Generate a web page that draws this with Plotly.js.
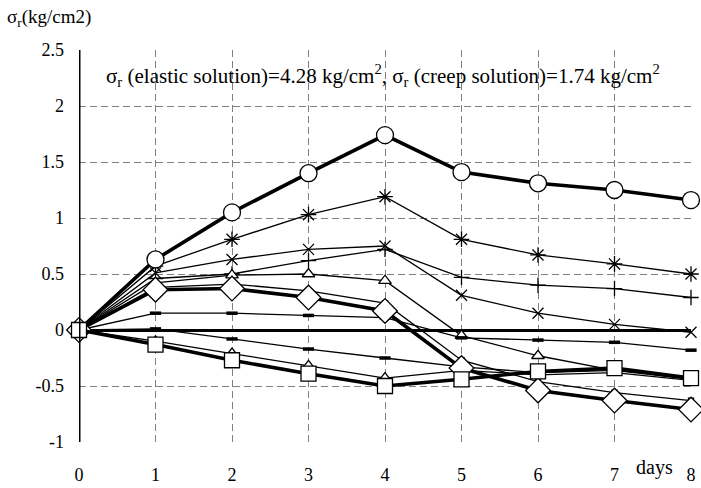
<!DOCTYPE html>
<html><head><meta charset="utf-8">
<script src="https://cdn.plot.ly/plotly-3.0.1.min.js"></script>
<style>html,body{margin:0;padding:0;background:#fff}#c{width:701px;height:488px}</style>
</head><body><div id="c"></div>
<script>
const days = [0,1,2,3,4,5,6,7,8];
const xTicks = [0,1,2,3,4,5,6,7,8];
const yTicks = [-1,-0.5,0,0.5,1,1.5,2,2.5];
const yTickText = ['-1','-0.5','0','0.5','1','1.5','2','2.5'];
// thin series
const sStar   = [0, 0.57, 0.81, 1.03, 1.19, 0.81, 0.67, 0.59, 0.50];
const sCross  = [0, 0.51, 0.63, 0.72, 0.75, 0.31, 0.15, 0.05, -0.02];
const sPlus   = [0, 0.46, 0.50, 0.62, 0.72, 0.47, 0.40, 0.37, 0.29];
const sTriUp  = [0, 0.42, 0.49, 0.50, 0.44, -0.05, -0.23, -0.36, -0.42];
const sDashA  = [0, 0.15, 0.15, 0.13, 0.11, -0.07, -0.09, -0.11, -0.18];
const sDot    = [0, 0.38, 0.41, 0.35, 0.24, -0.27, -0.46, -0.56, -0.63];
const sDashB  = [0, 0.01, -0.08, -0.17, -0.25, -0.33, -0.38, -0.36, -0.44];
const sTriDn  = [0, -0.10, -0.21, -0.32, -0.43, -0.36, -0.40, -0.38, -0.45];
// thick series
const sCircle = [0, 0.63, 1.05, 1.40, 1.74, 1.41, 1.31, 1.25, 1.16];
const sDiamond= [0, 0.36, 0.37, 0.29, 0.17, -0.34, -0.54, -0.63, -0.71];
const sSquare = [0, -0.13, -0.27, -0.39, -0.50, -0.44, -0.37, -0.34, -0.43];

function thin(y, sym, size, fill, lw){
  return {x: days, y: y, type:'scatter', mode:'lines+markers', cliponaxis:false,
    line:{color:'#000', width:1.3},
    marker:{symbol:sym, size:size, color: fill, line:{color:'#000', width: lw||1.3}},
    showlegend:false, hoverinfo:'skip'};
}
function thick(y, sym, size){
  return {x: days, y: y, type:'scatter', mode:'lines+markers', cliponaxis:false,
    line:{color:'#000', width:3.6},
    marker:{symbol:sym, size:size, color:'#fff', line:{color:'#000', width:1.3}},
    showlegend:false, hoverinfo:'skip'};
}
const data = [
  thin(sStar, 'asterisk-open', 13, '#000'),
  thin(sCross, 'x-thin-open', 11, '#000'),
  thin(sPlus, 'cross-thin-open', 11, '#000'),
  thin(sTriUp, 'triangle-up', 11, '#fff'),
  thin(sDashA, 'line-ew-open', 8, '#000', 3.5),
  thin(sDashB, 'line-ew-open', 8, '#000', 3.5),
  thin(sTriDn, 'triangle-up', 11, '#fff'),
  thin(sDot, 'square', 5, '#000'),
  thick(sCircle, 'circle', 17),
  thick(sDiamond, 'diamond', 19),
  thick(sSquare, 'square', 15)
];

const FAM = '"Liberation Serif", "Times New Roman", serif';
const font = {family:FAM, size:18, color:'#000'};
const layout = {
  width:701, height:488,
  margin:{l:79, r:10, t:50, b:46},
  paper_bgcolor:'#fff', plot_bgcolor:'#fff',
  font: font,
  showlegend:false,
  xaxis:{range:[0,8], tickvals:xTicks, ticktext:xTicks.map(String), showgrid:true,
    gridcolor:'#808080', gridwidth:1, griddash:'7px,4px', zeroline:false, showline:false,
    ticks:'', ticklabelstandoff:20, tickfont:font, fixedrange:true},
  yaxis:{range:[-1,2.5], tickvals:yTicks, ticktext:yTickText, showgrid:true,
    gridcolor:'#808080', gridwidth:1, griddash:'7px,4px',
    zeroline:true, zerolinecolor:'#000', zerolinewidth:3,
    showline:false, ticks:'', ticklabelstandoff:14, tickfont:font, fixedrange:true},
  shapes:[
    {type:'line', xref:'x', yref:'paper', x0:0, x1:0, y0:0, y1:1, line:{color:'#000', width:3}}
  ],
  annotations:[
    {xref:'paper', yref:'paper', x:-0.121, y:1.082, xanchor:'left', yanchor:'middle', showarrow:false,
     text:'σ<sub>r</sub>(kg/cm2)', font:{family:FAM, size:19, color:'#000'}},
    {xref:'x', yref:'y', x:3.98, y:2.27, xanchor:'center', yanchor:'middle', showarrow:false,
     text:'σ<sub>r</sub> (elastic solution)=4.28 kg/cm<sup>2</sup>, σ<sub>r</sub> (creep solution)=1.74 kg/cm<sup>2</sup>',
     font:{family:FAM, size:21, color:'#000'}},
    {xref:'x', yref:'paper', x:7.52, y:-0.064, xanchor:'center', yanchor:'middle', showarrow:false,
     text:'days', font:{family:FAM, size:20, color:'#000'}}
  ]
};
Plotly.newPlot('c', data, layout, {staticPlot:true, displayModeBar:false});
</script></body></html>
